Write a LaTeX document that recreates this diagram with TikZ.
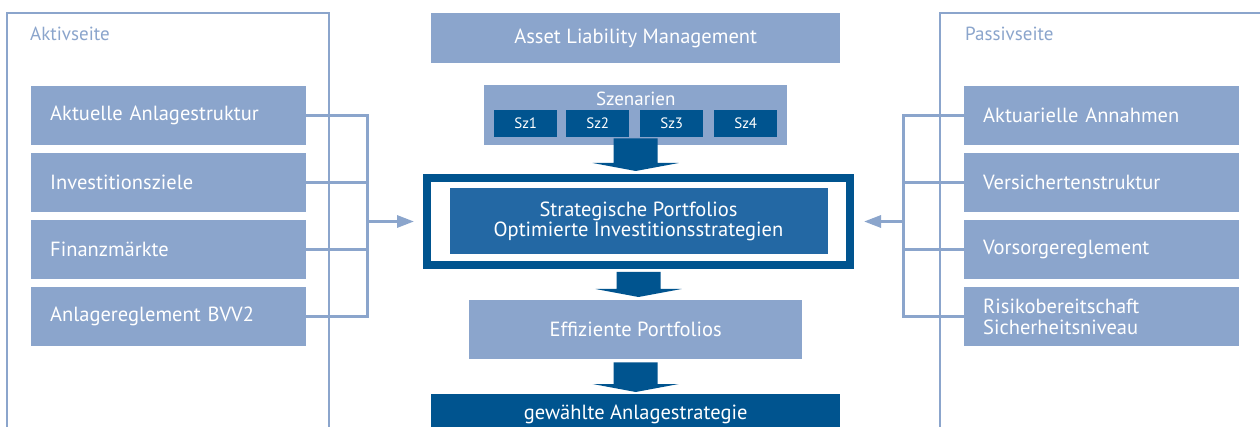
\documentclass[tikz,border=0pt]{standalone}
\usepackage{fontspec}
\setmainfont{PT Sans}
\usetikzlibrary{arrows.meta,calc}
\definecolor{lb}{RGB}{139,165,204}
\definecolor{db}{RGB}{0,84,143}
\definecolor{mb}{RGB}{35,104,164}
\newcommand\fatarr[2]{%
  \fill[db] let \p1=(#1), \p2=(#2) in
    (\x1-22pt,\y1) -- (\x1+22pt,\y1) -- (\x1+22pt,\y2+8pt) -- (\x1+43pt,\y2+8pt)
    -- (\x1,\y2) -- (\x1-43pt,\y2+8pt) -- (\x1-22pt,\y2+8pt) -- cycle;}
\begin{document}
\begin{tikzpicture}[x=1pt,y=-1pt,
  sidebox/.style={fill=lb, text=white, anchor=north west, inner xsep=19pt, inner ysep=0pt,
    text width=237pt, minimum height=59pt, align=left, font=\fontsize{20.5}{21}\selectfont},
  cbox/.style={fill=lb, text=white, anchor=north west, inner sep=0pt, align=center,
    font=\fontsize{20.5}{21}\selectfont},
  szbox/.style={fill=db, text=white, anchor=north west, inner sep=0pt,
    minimum width=63pt, minimum height=27pt, font=\fontsize{15}{17}\selectfont},
  panel/.style={draw=lb, line width=2pt},
  conn/.style={draw=lb, line width=3pt},
  lbl/.style={text=lb, anchor=base west, inner sep=0pt, font=\fontsize{19}{21}\selectfont}]
\clip (0,0) rectangle (1260,427);
\fill[white] (0,0) rectangle (1260,427);
% panels
\draw[panel] (7,440) -- (7,13) -- (329,13) -- (329,440);
\draw[panel] (940,440) -- (940,13) -- (1270,13);
\node[lbl] (aktiv) at (30,41) {Aktivseite};
\node[lbl] (passiv) at (965,41) {Passivseite};
% left boxes
\node[sidebox] (a1) at (31,86) {Aktuelle Anlagestruktur};
\node[sidebox] (a2) at (31,153) {Investitionsziele};
\node[sidebox] (a3) at (31,220) {Finanzmärkte};
\node[sidebox] (a4) at (31,287) {Anlagereglement BVV2};
% right boxes
\node[sidebox] (p1) at (964,86) {Aktuarielle Annahmen};
\node[sidebox] (p2) at (964,153) {Versichertenstruktur};
\node[sidebox] (p3) at (964,220) {Vorsorgereglement};
\node[sidebox] (p4) at (964,287) {Risikobereitschaft\\Sicherheitsniveau};
% centre
\node[cbox, minimum width=409pt, minimum height=50pt] (alm) at (431,13) {Asset Liability Management};
\node[cbox, minimum width=303pt, minimum height=60pt] (szen) at (484,85) {};
\node[text=white, inner sep=0pt, font=\fontsize{19}{21}\selectfont] (szt) at ($(szen.north)+(0,14)$) {Szenarien};
\node[szbox] (s1) at (494,110) {Sz1};
\node[szbox] (s2) at (566,110) {Sz2};
\node[szbox] (s3) at (640,110) {Sz3};
\node[szbox] (s4) at (714,110) {Sz4};
\node[draw=db, line width=8pt, outer sep=4pt, anchor=north west, minimum width=423pt,
  minimum height=87pt, inner sep=0pt] (frame) at (423,174) {};
\node[fill=mb, text=white, inner sep=0pt, minimum width=378pt, minimum height=66pt,
  align=center, font=\fontsize{20.5}{20.5}\selectfont] (strat) at (frame.center)
  {Strategische Portfolios\\Optimierte Investitionsstrategien};
\node[cbox, minimum width=333pt, minimum height=59pt] (eff) at (469,300) {Effiziente Portfolios};
\node[cbox, fill=db, minimum width=409pt, minimum height=40pt] (gew) at (431,394) {gewählte Anlagestrategie};
% fat arrows
\fatarr{$(szen.south)+(0,-7)$}{$(frame.north)+(0,-3)$}
\fatarr{$(frame.south)+(0,3)$}{$(eff.north)+(0,-3)$}
\fatarr{$(eff.south)+(0,3)$}{$(gew.north)+(0,-2)$}
% left connectors
\coordinate (lbus) at (367,0);
\coordinate (rbus) at (903,0);
\draw[conn, line join=miter] (a1.east) -- (a1.east -| lbus) -- (a4.east -| lbus) -- (a4.east);
\draw[conn] (a2.east) -- (a2.east -| lbus);
\draw[conn] (a3.east) -- (a3.east -| lbus);
\draw[conn, -{Triangle[length=17pt,width=12pt]}] (lbus |- frame.west) -- ($(frame.west)+(-9,0)$);
% right connectors
\draw[conn, line join=miter] (p1.west) -- (p1.west -| rbus) -- (p4.west -| rbus) -- (p4.west);
\draw[conn] (p2.west) -- (p2.west -| rbus);
\draw[conn] (p3.west) -- (p3.west -| rbus);
\draw[conn, -{Triangle[length=17pt,width=12pt]}] (rbus |- frame.east) -- ($(frame.east)+(10,0)$);
\end{tikzpicture}
\end{document}
